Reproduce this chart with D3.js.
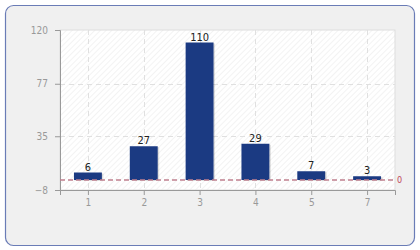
<!DOCTYPE html>
<html><head><meta charset="utf-8">
<script src="https://cdn.jsdelivr.net/npm/d3@7/dist/d3.min.js"></script>
<style>html,body{margin:0;padding:0;background:#fff;}svg{display:block;}</style>
</head><body>
<script>
const categories = ["1","2","3","4","5","7"];
const values = [6, 27, 110, 29, 7, 3];
const yTicks = [-8, 35, 77, 120];
const yDomain = [-8, 120];
const refValue = 0;

const W = 420, H = 250;
const m = {left: 60, right: 25, top: 30, bottom: 60};
const svg = d3.select("body").append("svg").attr("width", W).attr("height", H);
const font = "'DejaVu Sans Condensed','DejaVu Sans',sans-serif";

svg.append("rect").attr("x", 5.5).attr("y", 5.5).attr("width", 409).attr("height", 240)
  .attr("rx", 8).attr("fill", "#f0f0f0").attr("stroke", "#6a7cb6").attr("stroke-width", 1.2);

const defs = svg.append("defs");
const pat = defs.append("pattern").attr("id", "hatch").attr("patternUnits", "userSpaceOnUse")
  .attr("width", 4).attr("height", 4).attr("patternTransform", "rotate(45)");
pat.append("rect").attr("width", 4).attr("height", 4).attr("fill", "#ffffff");
pat.append("line").attr("x1", 0).attr("y1", 0).attr("x2", 0).attr("y2", 4)
  .attr("stroke", "#ececec").attr("stroke-width", 1.2);

const x = d3.scaleBand().domain(categories).range([m.left, W - m.right]).paddingInner(0.5).paddingOuter(0.25);
const xc = d3.scalePoint().domain(categories).range([m.left, W - m.right]).padding(0.5);
const y = d3.scaleLinear().domain(yDomain).range([H - m.bottom, m.top]);

const pw = W - m.right - m.left, ph = (H - m.bottom) - m.top;
svg.append("rect").attr("x", m.left).attr("y", m.top).attr("width", pw).attr("height", ph)
  .attr("fill", "url(#hatch)").attr("stroke", "#dddddd");

// grid
const g = svg.append("g");
g.selectAll(".vg").data(categories).join("line")
  .attr("x1", d => Math.round(xc(d)) + 0.5).attr("x2", d => Math.round(xc(d)) + 0.5)
  .attr("y1", m.top).attr("y2", H - m.bottom)
  .attr("stroke", "#e0e0e0").attr("stroke-dasharray", "5,4");
g.selectAll(".hg").data(yTicks.slice(1, 3)).join("line")
  .attr("x1", m.left).attr("x2", W - m.right)
  .attr("y1", d => Math.round(y(d)) + 0.5).attr("y2", d => Math.round(y(d)) + 0.5)
  .attr("stroke", "#e0e0e0").attr("stroke-dasharray", "5,4");

// axes
const yAxis = svg.append("g").attr("transform", `translate(${m.left},0)`)
  .call(d3.axisLeft(y).tickValues(yTicks).tickSize(5).tickPadding(7));
const xAxis = svg.append("g").attr("transform", `translate(0,${H - m.bottom})`)
  .call(d3.axisBottom(xc).tickSize(5).tickPadding(4));
[yAxis, xAxis].forEach(a => {
  a.select(".domain").attr("stroke", "#999");
  a.selectAll(".tick line").attr("stroke", "#999");
  a.selectAll("text").attr("fill", "#999").attr("font-family", font).attr("font-size", 10);
});

// bars
svg.selectAll(".shadow").data(values).join("rect")
  .attr("x", (d, i) => x(categories[i]) + 1.5).attr("y", d => y(d) + 1)
  .attr("width", x.bandwidth()).attr("height", d => y(refValue) - y(d))
  .attr("fill", "#000").attr("opacity", 0.12);
svg.selectAll(".bar").data(values).join("rect")
  .attr("x", (d, i) => x(categories[i])).attr("y", d => y(d))
  .attr("width", x.bandwidth()).attr("height", d => y(refValue) - y(d))
  .attr("fill", "#1b3a82");
svg.selectAll(".lbl").data(values).join("text")
  .attr("x", (d, i) => x(categories[i]) + x.bandwidth() / 2).attr("y", d => y(d) - 2)
  .attr("text-anchor", "middle").attr("font-family", font).attr("font-size", 11)
  .attr("fill", "#222").text(d => d);

// zero line
svg.append("line").attr("x1", m.left).attr("x2", W - m.right - 2)
  .attr("y1", y(refValue)).attr("y2", y(refValue))
  .attr("stroke", "#c0808e").attr("stroke-width", 1.5).attr("stroke-dasharray", "5,3");
svg.append("text").attr("x", W - m.right + 2).attr("y", y(refValue) + 3)
  .attr("font-family", font).attr("font-size", 9).attr("fill", "#c04a5a").text(refValue);
</script>
</body></html>
